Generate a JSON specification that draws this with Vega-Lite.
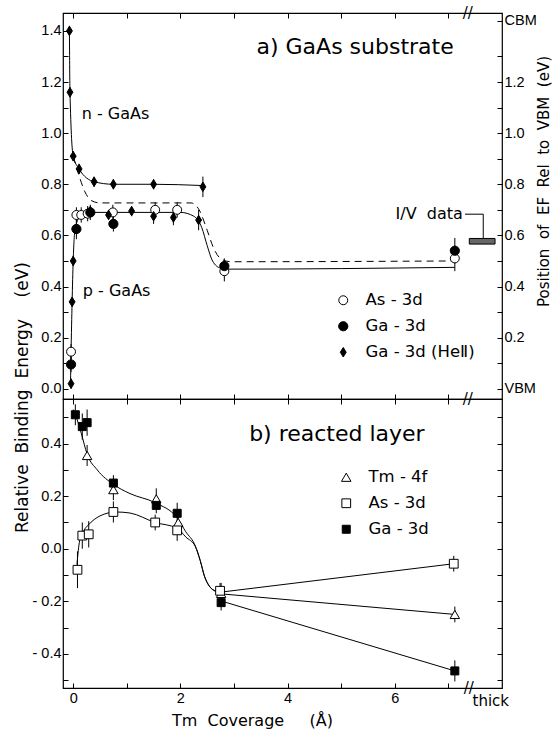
{
  "$schema": "https://vega.github.io/schema/vega-lite/v6.json",
  "padding": {"left": 12, "top": 5, "right": 0, "bottom": 0},
  "background": "white",
  "spacing": 0,
  "bounds": "flush",
  "config": {
    "font": "DejaVu Sans",
    "view": {"stroke": "black", "strokeWidth": 1.2},
    "axis": {
      "domain": false, "grid": false, "tickColor": "black", "tickSize": -5, "tickWidth": 1,
      "labelColor": "black", "labelFont": "Liberation Sans", "labelFontSize": 14.5, "labelPadding": 7,
      "labelFlush": false, "labelOverlap": false, "labelBound": false,
      "titleFont": "DejaVu Sans", "titleFontWeight": "normal", "titleColor": "black", "titleFontSize": 17
    },
    "legend": {
      "orient": "none", "title": null, "labelFont": "DejaVu Sans", "labelFontSize": 16.5, "labelColor": "black",
      "symbolStrokeColor": "black", "symbolStrokeWidth": 1, "labelOffset": 14, "padding": 0, "rowPadding": 9
    }
  },
  "datasets": {
    "pa": [
      {"s": "As - 3d", "x": -0.04, "y": 0.145, "e": 0.03},
      {"s": "As - 3d", "x": 0.06, "y": 0.68, "e": 0.03},
      {"s": "As - 3d", "x": 0.15, "y": 0.68, "e": 0.03},
      {"s": "As - 3d", "x": 0.27, "y": 0.685, "e": 0.03},
      {"s": "As - 3d", "x": 0.74, "y": 0.69, "e": 0.03},
      {"s": "As - 3d", "x": 1.53, "y": 0.70, "e": 0.03},
      {"s": "As - 3d", "x": 1.94, "y": 0.70, "e": 0.03},
      {"s": "As - 3d", "x": 2.82, "y": 0.46, "e": 0.04},
      {"s": "As - 3d", "x": 7.12, "y": 0.51, "e": 0.05},
      {"s": "Ga - 3d", "x": -0.04, "y": 0.095, "e": 0.03},
      {"s": "Ga - 3d", "x": 0.06, "y": 0.625, "e": 0.04},
      {"s": "Ga - 3d", "x": 0.32, "y": 0.69, "e": 0.03},
      {"s": "Ga - 3d", "x": 0.75, "y": 0.645, "e": 0.03},
      {"s": "Ga - 3d", "x": 2.82, "y": 0.48, "e": 0.03},
      {"s": "Ga - 3d", "x": 7.12, "y": 0.54, "e": 0.05},
      {"s": "Ga - 3d (HeⅡ)", "x": -0.07, "y": 1.40, "e": 0.02},
      {"s": "Ga - 3d (HeⅡ)", "x": -0.06, "y": 1.16, "e": 0.02},
      {"s": "Ga - 3d (HeⅡ)", "x": 0.0, "y": 0.91, "e": 0.02},
      {"s": "Ga - 3d (HeⅡ)", "x": 0.11, "y": 0.86, "e": 0.02},
      {"s": "Ga - 3d (HeⅡ)", "x": 0.39, "y": 0.81, "e": 0.02},
      {"s": "Ga - 3d (HeⅡ)", "x": 0.75, "y": 0.80, "e": 0.02},
      {"s": "Ga - 3d (HeⅡ)", "x": 1.5, "y": 0.80, "e": 0.02},
      {"s": "Ga - 3d (HeⅡ)", "x": 2.42, "y": 0.79, "e": 0.04},
      {"s": "Ga - 3d (HeⅡ)", "x": 0.32, "y": 0.695, "e": 0.02},
      {"s": "Ga - 3d (HeⅡ)", "x": 0.66, "y": 0.68, "e": 0.02},
      {"s": "Ga - 3d (HeⅡ)", "x": 1.09, "y": 0.695, "e": 0.02},
      {"s": "Ga - 3d (HeⅡ)", "x": 1.5, "y": 0.675, "e": 0.03},
      {"s": "Ga - 3d (HeⅡ)", "x": 1.87, "y": 0.67, "e": 0.03},
      {"s": "Ga - 3d (HeⅡ)", "x": 2.34, "y": 0.66, "e": 0.04},
      {"s": "Ga - 3d (HeⅡ)", "x": 0.0, "y": 0.50, "e": 0.02},
      {"s": "Ga - 3d (HeⅡ)", "x": -0.02, "y": 0.34, "e": 0.02},
      {"s": "Ga - 3d (HeⅡ)", "x": -0.04, "y": 0.02, "e": 0.02}
    ],
    "ca": [
      {"c": "n", "x": -0.07, "y": 1.40},
      {"c": "n", "x": -0.06, "y": 1.16},
      {"c": "n", "x": 0.0, "y": 0.91},
      {"c": "n", "x": 0.11, "y": 0.86},
      {"c": "n", "x": 0.39, "y": 0.81},
      {"c": "n", "x": 0.75, "y": 0.80},
      {"c": "n", "x": 1.5, "y": 0.80},
      {"c": "n", "x": 2.42, "y": 0.795},
      {"c": "p", "x": -0.05, "y": 0.02},
      {"c": "p", "x": -0.04, "y": 0.14},
      {"c": "p", "x": -0.02, "y": 0.34},
      {"c": "p", "x": 0.0, "y": 0.50},
      {"c": "p", "x": 0.04, "y": 0.63},
      {"c": "p", "x": 0.15, "y": 0.68},
      {"c": "p", "x": 0.4, "y": 0.69},
      {"c": "p", "x": 1.5, "y": 0.69},
      {"c": "p", "x": 2.0, "y": 0.69},
      {"c": "p", "x": 2.25, "y": 0.675},
      {"c": "p", "x": 2.4, "y": 0.63},
      {"c": "p", "x": 2.5, "y": 0.56},
      {"c": "p", "x": 2.6, "y": 0.50},
      {"c": "p", "x": 2.75, "y": 0.472},
      {"c": "p", "x": 2.9, "y": 0.468},
      {"c": "p", "x": 7.12, "y": 0.475}
    ],
    "da": [
      {"x": 0.0, "y": 0.91},
      {"x": 0.1, "y": 0.84},
      {"x": 0.22, "y": 0.77},
      {"x": 0.35, "y": 0.735},
      {"x": 0.5, "y": 0.727},
      {"x": 2.2, "y": 0.727},
      {"x": 2.35, "y": 0.70},
      {"x": 2.5, "y": 0.62},
      {"x": 2.62, "y": 0.55},
      {"x": 2.78, "y": 0.505},
      {"x": 2.95, "y": 0.497},
      {"x": 7.12, "y": 0.50}
    ],
    "pb": [
      {"s": "Tm - 4f", "x": 0.26, "y": 0.355, "e": 0.04},
      {"s": "Tm - 4f", "x": 0.75, "y": 0.225, "e": 0.04},
      {"s": "Tm - 4f", "x": 1.55, "y": 0.19, "e": 0.04},
      {"s": "Tm - 4f", "x": 1.96, "y": 0.10, "e": 0.04},
      {"s": "Tm - 4f", "x": 2.76, "y": -0.17, "e": 0.04},
      {"s": "Tm - 4f", "x": 7.12, "y": -0.25, "e": 0.03},
      {"s": "As - 3d", "x": 0.08, "y": -0.08, "e": 0.07},
      {"s": "As - 3d", "x": 0.17, "y": 0.05, "e": 0.05},
      {"s": "As - 3d", "x": 0.29, "y": 0.055, "e": 0.05},
      {"s": "As - 3d", "x": 0.75, "y": 0.14, "e": 0.04},
      {"s": "As - 3d", "x": 1.53, "y": 0.10, "e": 0.03},
      {"s": "As - 3d", "x": 1.94, "y": 0.07, "e": 0.04},
      {"s": "As - 3d", "x": 2.74, "y": -0.16, "e": 0.03},
      {"s": "As - 3d", "x": 7.1, "y": -0.057, "e": 0.03},
      {"s": "Ga - 3d", "x": 0.04, "y": 0.51, "e": 0.04},
      {"s": "Ga - 3d", "x": 0.17, "y": 0.465, "e": 0.05},
      {"s": "Ga - 3d", "x": 0.26, "y": 0.48, "e": 0.05},
      {"s": "Ga - 3d", "x": 0.75, "y": 0.25, "e": 0.03},
      {"s": "Ga - 3d", "x": 1.55, "y": 0.165, "e": 0.03},
      {"s": "Ga - 3d", "x": 1.94, "y": 0.135, "e": 0.04},
      {"s": "Ga - 3d", "x": 2.76, "y": -0.205, "e": 0.03},
      {"s": "Ga - 3d", "x": 7.12, "y": -0.465, "e": 0.04}
    ],
    "cb": [
      {"c": "u", "x": 0.0, "y": 0.53},
      {"c": "u", "x": 0.06, "y": 0.50},
      {"c": "u", "x": 0.15, "y": 0.44},
      {"c": "u", "x": 0.26, "y": 0.36},
      {"c": "u", "x": 0.45, "y": 0.30},
      {"c": "u", "x": 0.75, "y": 0.245},
      {"c": "u", "x": 1.06, "y": 0.21},
      {"c": "u", "x": 1.53, "y": 0.175},
      {"c": "u", "x": 1.94, "y": 0.117},
      {"c": "u", "x": 2.1, "y": 0.065},
      {"c": "u", "x": 2.28, "y": 0.01},
      {"c": "u", "x": 2.37, "y": -0.045},
      {"c": "u", "x": 2.45, "y": -0.105},
      {"c": "u", "x": 2.55, "y": -0.145},
      {"c": "u", "x": 2.65, "y": -0.162},
      {"c": "u", "x": 2.78, "y": -0.172},
      {"c": "a", "x": 0.07, "y": -0.06},
      {"c": "a", "x": 0.12, "y": 0.03},
      {"c": "a", "x": 0.2, "y": 0.07},
      {"c": "a", "x": 0.28, "y": 0.09},
      {"c": "a", "x": 0.5, "y": 0.125},
      {"c": "a", "x": 0.8, "y": 0.14},
      {"c": "a", "x": 1.06, "y": 0.136},
      {"c": "a", "x": 1.53, "y": 0.10},
      {"c": "a", "x": 1.94, "y": 0.078},
      {"c": "a", "x": 2.1, "y": 0.045},
      {"c": "a", "x": 2.28, "y": 0.008},
      {"c": "a", "x": 2.37, "y": -0.045},
      {"c": "a", "x": 2.45, "y": -0.105},
      {"c": "a", "x": 2.55, "y": -0.145},
      {"c": "a", "x": 2.65, "y": -0.16},
      {"c": "a", "x": 2.76, "y": -0.165},
      {"c": "sAs", "x": 2.76, "y": -0.165},
      {"c": "sAs", "x": 7.1, "y": -0.057},
      {"c": "sTm", "x": 2.78, "y": -0.172},
      {"c": "sTm", "x": 7.12, "y": -0.25},
      {"c": "sGa", "x": 2.78, "y": -0.2},
      {"c": "sGa", "x": 7.12, "y": -0.465}
    ]
  },
  "vconcat": [
    {
      "width": 439,
      "height": 386,
      "layer": [
        {
          "encoding": {
            "x": {"field": "x", "type": "quantitative", "scale": {"domain": [-0.19, 8.0], "nice": false, "zero": false},
              "axis": {"orient": "bottom", "values": [0, 1, 2, 3, 4, 5, 6, 7], "labels": false, "title": null}},
            "y": {"field": "y", "type": "quantitative", "scale": {"domain": [-0.04, 1.47], "nice": false, "zero": false},
              "axis": {"orient": "left", "values": [0, 0.1, 0.2, 0.3, 0.4, 0.5, 0.6, 0.7, 0.8, 0.9, 1.0, 1.1, 1.2, 1.3, 1.4],
                "labelExpr": "round(datum.value*10)%2==0 ? format(datum.value,'.1f') : ''",
                "title": "Relative\u00a0 Binding\u00a0 Energy\u00a0\u00a0\u00a0 (eV)", "titleFontSize": 17,
                "titleX": -41, "titleY": 384, "titleAngle": -90, "titleAlign": "center", "titleBaseline": "middle"}}
          },
          "layer": [
            {"data": {"name": "ca"}, "mark": {"type": "line", "interpolate": "monotone", "color": "black", "strokeWidth": 1}, "encoding": {"detail": {"field": "c"}}},
            {"data": {"name": "da"}, "mark": {"type": "line", "interpolate": "monotone", "color": "black", "strokeWidth": 1, "strokeDash": [7, 5]}},
            {"data": {"name": "pa"}, "mark": {"type": "errorbar", "color": "black", "thickness": 1}, "encoding": {"yError": {"field": "e"}}},
            {"data": {"name": "pa"}, "mark": {"type": "point", "filled": true, "strokeWidth": 1, "opacity": 1},
              "encoding": {
                "shape": {"field": "s", "type": "nominal", "scale": {"domain": ["As - 3d", "Ga - 3d", "Ga - 3d (HeⅡ)"], "range": ["circle", "circle", "M0,-1L0.62,0L0,1L-0.62,0Z"]},
                  "legend": {"legendX": 272, "legendY": 279}},
                "fill": {"field": "s", "type": "nominal", "scale": {"domain": ["As - 3d", "Ga - 3d", "Ga - 3d (HeⅡ)"], "range": ["white", "black", "black"]},
                  "legend": {"legendX": 272, "legendY": 279}},
                "stroke": {"field": "s", "type": "nominal", "scale": {"domain": ["As - 3d", "Ga - 3d", "Ga - 3d (HeⅡ)"], "range": ["black", "black", "black"]},
                  "legend": {"legendX": 272, "legendY": 279}},
                "size": {"field": "s", "type": "nominal", "scale": {"domain": ["As - 3d", "Ga - 3d", "Ga - 3d (HeⅡ)"], "range": [80, 90, 130]},
                  "legend": {"legendX": 272, "legendY": 279}}
              }},
            {"data": {"values": [{"x": 5.26, "y": 1.337, "t": "a) GaAs substrate"}]},
              "mark": {"type": "text", "fontSize": 22, "align": "center", "baseline": "middle", "color": "black"}, "encoding": {"text": {"field": "t"}}},
            {"data": {"values": [{"x": 0.16, "y": 1.075, "t": "n - GaAs"}, {"x": 0.18, "y": 0.383, "t": "p - GaAs"}]},
              "mark": {"type": "text", "fontSize": 16, "align": "left", "baseline": "middle", "color": "black"}, "encoding": {"text": {"field": "t"}}},
            {"data": {"values": [{"x": 7.27, "y": 0.683, "t": "I/V\u00a0 data"}]},
              "mark": {"type": "text", "fontSize": 16, "align": "right", "baseline": "middle", "color": "black"}, "encoding": {"text": {"field": "t"}}},
            {"data": {"values": [{"x": 7.36, "y": 1.47, "t": "//"}, {"x": 7.36, "y": -0.04, "t": "//"}]},
              "mark": {"type": "text", "fontSize": 15, "align": "center", "baseline": "middle", "color": "black"}, "encoding": {"text": {"field": "t"}}},
            {"data": {"values": [{"x": 7.31, "x2": 7.65, "y": 0.683, "y2": 0.683}, {"x": 7.65, "x2": 7.65, "y": 0.683, "y2": 0.59}]},
              "mark": {"type": "rule", "color": "black", "strokeWidth": 1}, "encoding": {"x2": {"field": "x2"}, "y2": {"field": "y2"}}},
            {"data": {"values": [{"x": 7.39, "x2": 7.87, "y": 0.566, "y2": 0.588}]},
              "mark": {"type": "rect", "fill": "#666666", "stroke": "black", "strokeWidth": 1}, "encoding": {"x2": {"field": "x2"}, "y2": {"field": "y2"}}}
          ]
        },
        {
          "data": {"values": [{"x": 0, "y": 0}]},
          "mark": {"type": "point", "opacity": 0},
          "encoding": {
            "x": {"field": "x", "type": "quantitative", "scale": {"domain": [-0.19, 8.0], "nice": false, "zero": false},
              "axis": {"orient": "top", "values": [0, 1, 2, 3, 4, 5, 6, 7], "labels": false, "title": null}},
            "y": {"field": "y", "type": "quantitative", "scale": {"domain": [-0.04, 1.47], "nice": false, "zero": false},
              "axis": {"orient": "right", "values": [0, 0.1, 0.2, 0.3, 0.4, 0.5, 0.6, 0.7, 0.8, 0.9, 1.0, 1.1, 1.2, 1.3, 1.44],
                "labelExpr": "datum.value == 0 ? 'VBM' : (datum.value > 1.4 ? 'CBM' : (round(datum.value*10)%2==0 ? format(datum.value,'.1f') : ''))",
                "title": "Position\u00a0 of\u00a0 EF\u00a0 Rel\u00a0 to\u00a0 VBM\u00a0 (eV)", "titleFontSize": 15,
                "titleX": 41, "titleY": 168, "titleAngle": -90, "titleAlign": "center", "titleBaseline": "middle"}}
          }
        }
      ],
      "resolve": {"scale": {"x": "independent", "y": "independent"}}
    },
    {
      "width": 439,
      "height": 289,
      "layer": [
        {
          "encoding": {
            "x": {"field": "x", "type": "quantitative", "scale": {"domain": [-0.19, 8.0], "nice": false, "zero": false},
              "axis": {"orient": "bottom", "values": [0, 1, 2, 3, 4, 5, 6, 7], "labelExpr": "datum.value % 2 == 0 ? datum.label : ''",
                "labelPadding": 8, "title": "Tm\u00a0 Coverage\u00a0\u00a0\u00a0\u00a0 (Å)", "titleFontSize": 16,
                "titleX": 189, "titleY": 32, "titleAlign": "center", "titleBaseline": "middle"}},
            "y": {"field": "y", "type": "quantitative", "scale": {"domain": [-0.53, 0.57], "nice": false, "zero": false},
              "axis": {"orient": "left", "values": [-0.5, -0.4, -0.3, -0.2, -0.1, 0, 0.1, 0.2, 0.3, 0.4, 0.5],
                "labelExpr": "round(datum.value*10)%2==0 ? (datum.value < 0 ? '- ' + format(-datum.value,'.1f') : format(datum.value,'.1f')) : ''",
                "title": null}}
          },
          "layer": [
            {"data": {"name": "cb"}, "mark": {"type": "line", "interpolate": "monotone", "color": "black", "strokeWidth": 1}, "encoding": {"detail": {"field": "c"}}},
            {"data": {"name": "pb"}, "mark": {"type": "errorbar", "color": "black", "thickness": 1}, "encoding": {"yError": {"field": "e"}}},
            {"data": {"name": "pb"}, "mark": {"type": "point", "filled": true, "strokeWidth": 1, "opacity": 1},
              "encoding": {
                "shape": {"field": "s", "type": "nominal", "scale": {"domain": ["Tm - 4f", "As - 3d", "Ga - 3d"], "range": ["triangle-up", "square", "square"]},
                  "legend": {"legendX": 275, "legendY": 70}},
                "fill": {"field": "s", "type": "nominal", "scale": {"domain": ["Tm - 4f", "As - 3d", "Ga - 3d"], "range": ["white", "white", "black"]},
                  "legend": {"legendX": 275, "legendY": 70}},
                "stroke": {"field": "s", "type": "nominal", "scale": {"domain": ["Tm - 4f", "As - 3d", "Ga - 3d"], "range": ["black", "black", "black"]},
                  "legend": {"legendX": 275, "legendY": 70}},
                "size": {"field": "s", "type": "nominal", "scale": {"domain": ["Tm - 4f", "As - 3d", "Ga - 3d"], "range": [90, 64, 80]},
                  "legend": {"legendX": 275, "legendY": 70}}
              }},
            {"data": {"values": [{"x": 4.92, "y": 0.437, "t": "b) reacted layer"}]},
              "mark": {"type": "text", "fontSize": 22, "align": "center", "baseline": "middle", "color": "black"}, "encoding": {"text": {"field": "t"}}},
            {"data": {"values": [{"x": 7.45, "y": -0.58, "t": "thick"}]},
              "mark": {"type": "text", "fontSize": 15, "align": "left", "baseline": "middle", "color": "black"}, "encoding": {"text": {"field": "t"}}},
            {"data": {"values": [{"x": 7.38, "y": -0.53, "t": "//"}]},
              "mark": {"type": "text", "fontSize": 15, "align": "center", "baseline": "middle", "color": "black"}, "encoding": {"text": {"field": "t"}}}
          ]
        },
        {
          "data": {"values": [{"x": 0, "y": 0}]},
          "mark": {"type": "point", "opacity": 0},
          "encoding": {
            "x": {"field": "x", "type": "quantitative", "scale": {"domain": [-0.19, 8.0], "nice": false, "zero": false},
              "axis": {"orient": "top", "values": [0, 1, 2, 3, 4, 5, 6, 7], "labels": false, "title": null}},
            "y": {"field": "y", "type": "quantitative", "scale": {"domain": [-0.53, 0.57], "nice": false, "zero": false},
              "axis": {"orient": "right", "values": [-0.5, -0.4, -0.3, -0.2, -0.1, 0, 0.1, 0.2, 0.3, 0.4, 0.5], "labels": false, "title": null}}
          }
        }
      ],
      "resolve": {"scale": {"x": "independent", "y": "independent"}}
    }
  ],
  "resolve": {"scale": {"shape": "independent", "fill": "independent", "stroke": "independent", "size": "independent"}}
}
